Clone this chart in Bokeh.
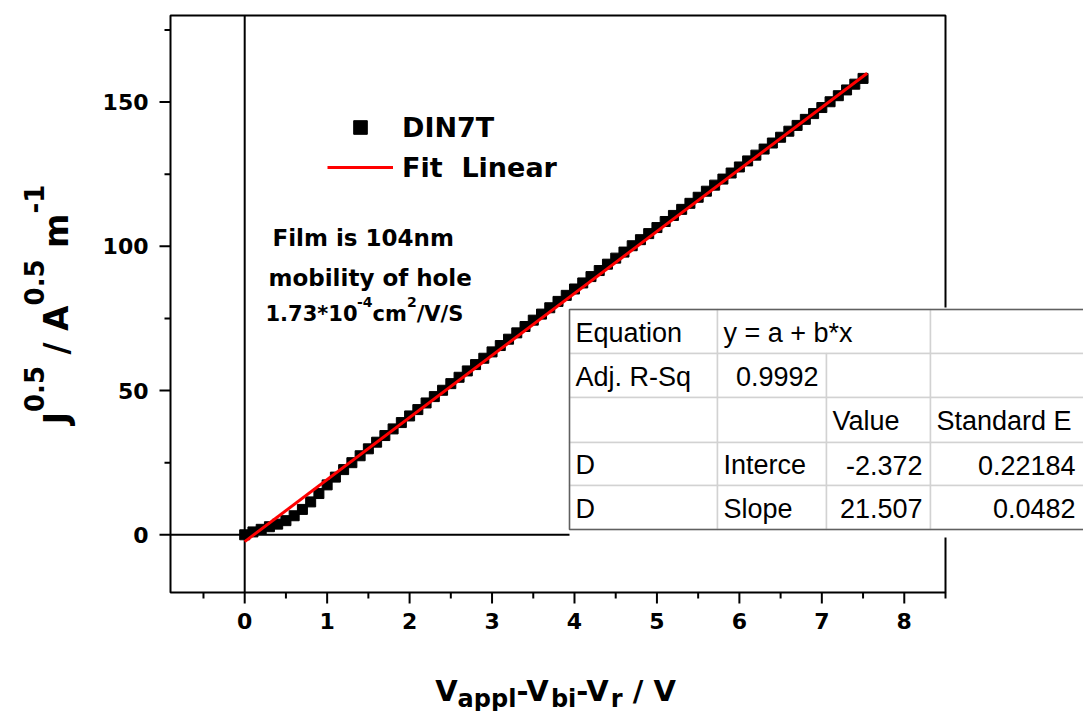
import math
from bokeh.plotting import figure
from bokeh.models import (Label, BoxAnnotation, Range1d, Legend, LegendItem,
                          ColumnDataSource)
from bokeh.core.properties import value
from bokeh.embed import file_html
from bokeh.resources import INLINE

# ---------------- data ----------------
volts = [0.0, 0.1, 0.2, 0.3, 0.4, 0.5, 0.6, 0.7, 0.8, 0.9,
         1.0, 1.1, 1.2, 1.3, 1.4, 1.5, 1.6, 1.7, 1.8, 1.9,
         2.0, 2.1, 2.2, 2.3, 2.4, 2.5, 2.6, 2.7, 2.8, 2.9,
         3.0, 3.1, 3.2, 3.3, 3.4, 3.5, 3.6, 3.7, 3.8, 3.9,
         4.0, 4.1, 4.2, 4.3, 4.4, 4.5, 4.6, 4.7, 4.8, 4.9,
         5.0, 5.1, 5.2, 5.3, 5.4, 5.5, 5.6, 5.7, 5.8, 5.9,
         6.0, 6.1, 6.2, 6.3, 6.4, 6.5, 6.6, 6.7, 6.8, 6.9,
         7.0, 7.1, 7.2, 7.3, 7.4, 7.5]
sqrt_j = [0.0, 1.0, 1.9, 2.8, 3.7, 4.9, 6.6, 8.8, 11.4, 14.3,
          17.3, 20.0, 22.6, 25.0, 27.4, 29.8, 32.1, 34.4, 36.7, 38.9,
          41.2, 43.4, 45.7, 47.9, 50.1, 52.4, 54.6, 56.8, 59.0, 61.2,
          63.4, 65.6, 67.8, 70.0, 72.2, 74.4, 76.5, 78.7, 80.9, 83.0,
          85.2, 87.3, 89.5, 91.6, 93.8, 95.9, 98.0, 100.2, 102.3, 104.4,
          106.5, 108.6, 110.7, 112.8, 114.9, 117.0, 119.1, 121.2, 123.3, 125.4,
          127.5, 129.6, 131.6, 133.7, 135.8, 137.8, 139.9, 141.9, 144.0, 146.0,
          148.1, 150.1, 152.2, 154.2, 156.2, 158.2]
fit_intercept = -2.372
fit_slope = 21.507
fit_x = [0.0, 7.55]

x_ticks = [0, 1, 2, 3, 4, 5, 6, 7, 8]
x_tick_labels = ["0", "1", "2", "3", "4", "5", "6", "7", "8"]
x_minor = [-0.5, 0.5, 1.5, 2.5, 3.5, 4.5, 5.5, 6.5, 7.5, 8.5]
y_ticks = [0, 50, 100, 150]
y_tick_labels = ["0", "50", "100", "150"]
y_minor = [25, 75, 125, 175]

series_name = "DIN7T"
fit_name = "Fit  Linear"
note_lines = ["Film is 104nm", "mobility of hole"]
note_formula = [("1.73*10", "n"), ("-4", "s"), ("cm", "n"), ("2", "s"), ("/V/S", "n")]
y_label_parts = [("J", "n"), ("0.5", "s"), (" / ", "n"), ("A", "n"), ("0.5", "s"), (" m", "n"), ("-1", "s")]
x_label_parts = [("V", "n"), ("appl", "b"), ("-V", "n"), ("bi", "b"), ("-V", "n"), ("r", "b"), (" / V", "n")]

table_rows = [
    ["Equation", "y = a + b*x", None, ""],
    ["Adj. R-Sq", "0.9992", "", ""],
    ["", "", "Value", "Standard E"],
    ["D", "Interce", "-2.372", "0.22184"],
    ["D", "Slope", "21.507", "0.0482"],
]

fit_y = [fit_intercept + fit_slope * v for v in fit_x]

# ---------------- geometry ----------------
W, H = 1083, 711
FL, FR, FT, FB = 170, 945, 15, 592          # plot box in pixels
X0, X1, Y0, Y1 = -0.9, 8.5, -20.0, 180.0    # axis limits


def dx(px):
    return X0 + (px - FL) / (FR - FL) * (X1 - X0)


def dy(py):
    return Y1 - (py - FT) / (FB - FT) * (Y1 - Y0)


DVB = {' ': .348, '.': .380, '/': .365, '-': .415, '*': .5, '0': .696, '1': .696,
       '2': .696, '3': .696, '4': .696, '5': .696, '7': .696, 'J': .372, 'A': .774,
       'V': .774, 'S': .720, 'm': 1.042, 'a': .675, 'p': .716, 'l': .343, 'b': .716,
       'i': .343, 'r': .493, 'c': .593}


def tw(s, size):
    return sum(DVB.get(c, .65) for c in s) * size


def lead(s):
    return len(s) - len(s.lstrip(" "))


# the frame covers the whole canvas; the plot box and axes are drawn inside it
p = figure(width=W, height=H, x_range=Range1d(dx(0), dx(W)), y_range=Range1d(dy(H), dy(0)),
           output_backend="svg", toolbar_location=None,
           x_axis_type=None, y_axis_type=None, min_border=0)
p.grid.visible = False
p.background_fill_color = "white"
p.border_fill_color = "white"
p.outline_line_color = None

# zero lines
p.segment(x0=[X0], y0=[0], x1=[X1], y1=[0], line_color="black", line_width=2)
p.segment(x0=[0], y0=[Y0], x1=[0], y1=[Y1], line_color="black", line_width=2)

# ticks
MAJ, MIN = 11, 6
p.segment(x0=x_ticks, y0=[Y0] * len(x_ticks), x1=x_ticks, y1=[dy(FB + MAJ)] * len(x_ticks),
          line_color="black", line_width=2)
p.segment(x0=x_minor, y0=[Y0] * len(x_minor), x1=x_minor, y1=[dy(FB + MIN)] * len(x_minor),
          line_color="black", line_width=2)
p.segment(x0=[X0] * len(y_ticks), y0=y_ticks, x1=[dx(FL - MAJ)] * len(y_ticks), y1=y_ticks,
          line_color="black", line_width=2)
p.segment(x0=[X0] * len(y_minor), y0=y_minor, x1=[dx(FL - MIN)] * len(y_minor), y1=y_minor,
          line_color="black", line_width=2)

# tick labels
p.text(x=x_ticks, y=[dy(FB + MAJ + 9)] * len(x_ticks), text=x_tick_labels,
       text_font=value("DejaVu Sans"), text_font_style=value("bold"),
       text_font_size=value("22px"), text_align="center", text_baseline="top",
       text_color="black")
p.text(x=[dx(FL - MAJ - 11)] * len(y_ticks), y=y_ticks, text=y_tick_labels,
       text_font=value("DejaVu Sans"), text_font_style=value("bold"),
       text_font_size=value("22px"), text_align="right", text_baseline="middle",
       text_color="black")

# data
src = ColumnDataSource(dict(x=volts, y=sqrt_j))
r_sq = p.scatter("x", "y", source=src, marker="square", size=10,
                 fill_color="black", line_color="black")
r_fit = p.line(fit_x, fit_y, line_color="#ff0000", line_width=3)

# plot box
p.add_layout(BoxAnnotation(left=X0, right=X1, bottom=Y0, top=Y1, fill_alpha=0,
                           line_color="black", line_alpha=1.0, line_width=2))

legend = Legend(items=[LegendItem(label=series_name, renderers=[r_sq]),
                       LegendItem(label=fit_name, renderers=[r_fit])],
                location=(327, H - 184), glyph_width=66, glyph_height=34,
                label_height=34, spacing=6, padding=0, margin=0,
                label_standoff=9, border_line_color=None,
                background_fill_alpha=0,
                label_text_font="DejaVu Sans", label_text_font_style="bold",
                label_text_font_size="27px", label_text_color="black")
p.add_layout(legend)

# notes
note_pos = [(272, 237), (268, 277)]
for txt, (px, py) in zip(note_lines, note_pos):
    p.add_layout(Label(x=dx(px), y=dy(py), text=txt, text_font="DejaVu Sans",
                       text_font_style="bold", text_font_size="23px",
                       text_baseline="alphabetic", text_align="left", text_color="black"))
cx = 265
for txt, kind in note_formula:
    size = 21 if kind == "n" else 14
    base = 313 if kind == "n" else 301
    p.add_layout(Label(x=dx(cx), y=dy(base), text=txt, text_font="DejaVu Sans",
                       text_font_style="bold", text_font_size=f"{size}px",
                       text_baseline="alphabetic", text_align="left", text_color="black"))
    cx += tw(txt, size)

# y axis label (rotated, flowing upward)
YM, YS = 33, 26
total = sum(tw(t, YM if k == "n" else YS) for t, k in y_label_parts)
cy = 304 + total / 2
for txt, kind in y_label_parts:
    size = YM if kind == "n" else YS
    bx = 56 if kind == "n" else 33
    start = cy - tw(" " * lead(txt), size)
    p.add_layout(Label(x=dx(bx), y=dy(start), text=txt.strip(), angle=math.pi / 2,
                       text_font="DejaVu Sans", text_font_style="bold",
                       text_font_size=f"{size}px", text_baseline="alphabetic",
                       text_align="left", text_color="black"))
    cy -= tw(txt, size)

# x axis label
XM, XS = 29, 24
total = sum(tw(t, XM if k == "n" else XS) for t, k in x_label_parts)
cx = 555 - total / 2
for txt, kind in x_label_parts:
    size = XM if kind == "n" else XS
    base = 690 if kind == "n" else 698
    start = cx + tw(" " * lead(txt), size)
    p.add_layout(Label(x=dx(start), y=dy(base), text=txt.strip(),
                       text_font="DejaVu Sans", text_font_style="bold",
                       text_font_size=f"{size}px", text_baseline="alphabetic",
                       text_align="left", text_color="black"))
    cx += tw(txt, size)

# results table (white margin around it hides what lies beneath)
col_edges = [569, 717, 826, 930, 1095]
row_edges = [309, 353, 397, 442, 485, 529]
p.add_layout(BoxAnnotation(left=dx(col_edges[0]), right=dx(col_edges[-1]),
                           top=dy(row_edges[0] - 2), bottom=dy(row_edges[-1] + 8),
                           fill_color="white", fill_alpha=1.0, line_alpha=0))
for ri, row in enumerate(table_rows):
    for ci, cell in enumerate(row):
        if cell is None:
            continue
        span_to = ci + 1
        while span_to < len(row) and row[span_to] is None:
            span_to += 1
        l, r = col_edges[ci], col_edges[span_to]
        t, b = row_edges[ri], row_edges[ri + 1]
        p.add_layout(BoxAnnotation(left=dx(l), right=dx(r), top=dy(t), bottom=dy(b),
                                   fill_color="white", fill_alpha=1.0,
                                   line_color="#d2d2d2", line_alpha=1.0, line_width=1.5))
        if cell:
            try:
                float(cell)
                numeric = True
            except ValueError:
                numeric = False
            tx = min(r, W) - 8 if numeric else l + 6
            p.add_layout(Label(x=dx(tx), y=dy((t + b) / 2 + 1), text=cell,
                               text_font="Liberation Sans", text_font_size="27px",
                               text_baseline="middle",
                               text_align="right" if numeric else "left",
                               text_color="black"))
p.add_layout(BoxAnnotation(left=dx(col_edges[0]), right=dx(col_edges[-1]),
                           top=dy(row_edges[0]), bottom=dy(row_edges[-1]),
                           fill_alpha=0, line_color="#606060", line_alpha=1.0,
                           line_width=1.5))

open("out.html", "w").write(file_html(p, INLINE))
